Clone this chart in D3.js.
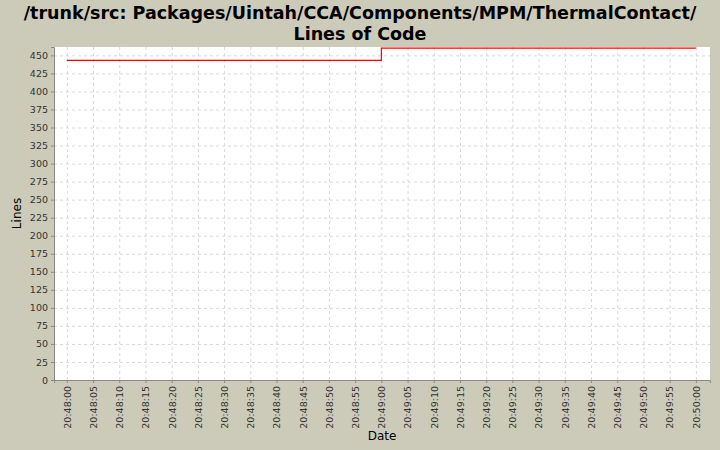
<!DOCTYPE html>
<html><head><meta charset="utf-8">
<script src="https://cdn.jsdelivr.net/npm/d3@7"></script>
<style>body{margin:0;background:#cccbb9}svg{display:block}</style>
</head><body><svg width="720" height="450"></svg>
<script>
const width = 720, height = 450;
const margin = {left: 54, top: 47, right: 10, bottom: 70};

const titleLines = ["/trunk/src: Packages/Uintah/CCA/Components/MPM/ThermalContact/", "Lines of Code"];
const times = ["20:48:00", "20:49:00", "20:50:00"];
const lines = [443, 460, 460];
const yTicks = d3.range(0, 451, 25);

const parse = d3.timeParse("%H:%M:%S");
const data = times.map((t, i) => ({date: parse(t), value: lines[i]}));

const svg = d3.select("svg");
const t0 = parse("20:48:00"), t1 = parse("20:50:00");
const pad = 2.45 * 1000;
const x = d3.scaleTime()
    .domain([new Date(+t0 - pad), new Date(+t1 + pad * 1.1)])
    .range([margin.left, width - margin.right]);
const y = d3.scaleLinear()
    .domain([0, 461.6])
    .range([height - margin.bottom, margin.top]);

const xTicks = d3.timeSecond.every(5).range(t0, new Date(+t1 + 1));

// plot background
svg.append("rect")
    .attr("x", margin.left).attr("y", margin.top)
    .attr("width", width - margin.right - margin.left)
    .attr("height", height - margin.bottom - margin.top)
    .attr("fill", "white");

// grid
svg.append("g").selectAll("line").data(xTicks).join("line")
    .attr("x1", d => x(d) + 0.5).attr("x2", d => x(d) + 0.5)
    .attr("y1", margin.top).attr("y2", height - margin.bottom)
    .attr("stroke", "#d8d8d8").attr("stroke-dasharray", "3,3");
svg.append("g").selectAll("line").data(yTicks).join("line")
    .attr("x1", margin.left).attr("x2", width - margin.right)
    .attr("y1", d => y(d) + 0.5).attr("y2", d => y(d) + 0.5)
    .attr("stroke", "#d8d8d8").attr("stroke-dasharray", "3,3");

// step line
const line = d3.line()
    .x(d => x(d.date)).y(d => y(d.value))
    .curve(d3.curveStepAfter);
svg.append("path").datum(data)
    .attr("d", line)
    .attr("fill", "none").attr("stroke", "red").attr("stroke-width", 1.2);

// axes
const ay = svg.append("g")
    .attr("transform", `translate(${margin.left},0)`)
    .call(d3.axisLeft(y).tickValues(yTicks).tickSize(3).tickPadding(3));
const ax = svg.append("g")
    .attr("transform", `translate(0,${height - margin.bottom})`)
    .call(d3.axisBottom(x).tickValues(xTicks).tickFormat(d3.timeFormat("%H:%M:%S")).tickSize(3));
ax.selectAll("text")
    .attr("transform", "rotate(-90)")
    .attr("text-anchor", "end")
    .attr("x", -6).attr("y", 0).attr("dy", "0.35em");
[ax, ay].forEach(a => {
    a.selectAll(".domain").attr("stroke", "#888");
    a.selectAll(".tick line").attr("stroke", "#888");
    a.selectAll("text").attr("font-family", "DejaVu Sans, sans-serif").attr("font-size", 9.5).attr("fill", "#333");
});

// labels
svg.append("text")
    .attr("x", (margin.left + width - margin.right) / 2).attr("y", 440)
    .attr("text-anchor", "middle")
    .attr("font-family", "DejaVu Sans, sans-serif").attr("font-size", 12)
    .text("Date");
svg.append("text")
    .attr("transform", `translate(21,${(margin.top + height - margin.bottom) / 2}) rotate(-90)`)
    .attr("text-anchor", "middle")
    .attr("font-family", "DejaVu Sans, sans-serif").attr("font-size", 12)
    .text("Lines");
svg.append("g").selectAll("text").data(titleLines).join("text")
    .attr("x", width / 2).attr("y", (d, i) => 19 + i * 21)
    .attr("text-anchor", "middle")
    .attr("font-family", "DejaVu Sans, sans-serif").attr("font-weight", "bold").attr("font-size", 17.5)
    .text(d => d);
</script></body></html>
